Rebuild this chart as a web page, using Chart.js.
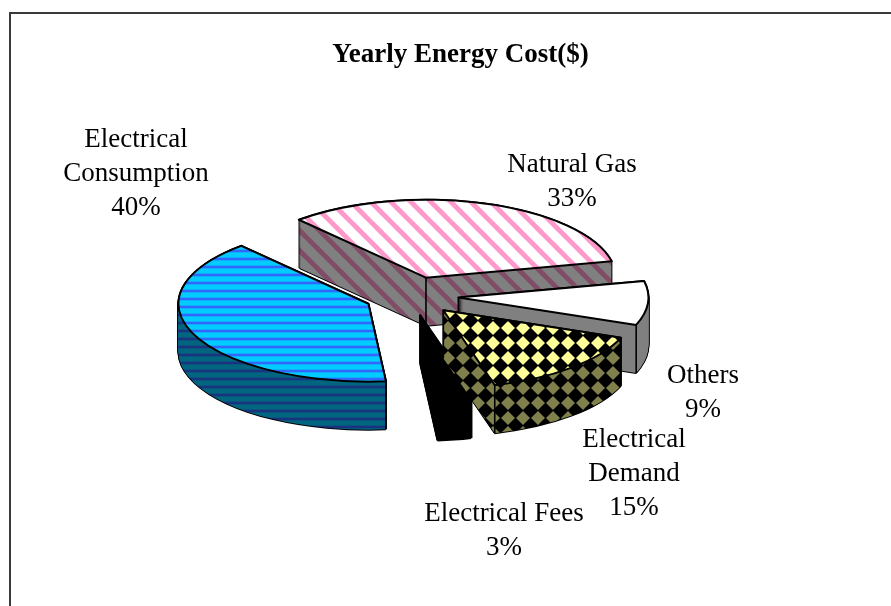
<!DOCTYPE html>
<html><head><meta charset="utf-8">
<style>html,body{margin:0;padding:0;background:#fff}#wrap{position:relative;width:891px;height:606px}canvas{display:block}</style>
<script src="https://cdn.jsdelivr.net/npm/chart.js@4"></script>
</head><body><div id="wrap"><canvas id="c" width="891" height="606"></canvas></div>
<script>
const chartTitle = 'Yearly Energy Cost($)';
const categories = ['Natural Gas', 'Others', 'Electrical Demand', 'Electrical Fees', 'Electrical Consumption'];
const shares = [33.3, 9.1, 14.9, 2.9, 39.8];
const labelLines = [['Natural Gas'], ['Others'], ['Electrical', 'Demand'], ['Electrical Fees'], ['Electrical', 'Consumption']];

// layout of the 3-D rendering
const FONT = '"Liberation Serif", "Times New Roman", serif';
const center = {x: 411.5, y: 296};
const squash = 0.41, depth = 48, explode = 47;
const drawOrder = [0, 1, 4, 3, 2];
const labelAnchors = [[572, 165], [703, 376], [634, 440], [504, 514], [136, 140]];
const labelLead = 34;

function tile(w, h, paint) {
  const t = document.createElement('canvas'); t.width = w; t.height = h;
  paint(t.getContext('2d'), w, h);
  return document.createElement('canvas').getContext('2d').createPattern(t, 'repeat');
}
function hLines(bg, fg) {
  return tile(8, 8, (g, w) => {
    g.fillStyle = bg; g.fillRect(0, 0, w, 8);
    g.fillStyle = fg; g.fillRect(0, 2, w, 2);
    g.globalAlpha = 0.3; g.fillRect(0, 1, w, 1); g.fillRect(0, 4, w, 1);
  });
}
function diagLines(bg, fg) {
  return tile(20, 20, (g, w, h) => {
    g.fillStyle = bg; g.fillRect(0, 0, w, h); g.strokeStyle = fg; g.lineWidth = 4.8;
    for (let o = -2 * w + 9; o <= 2 * w; o += w) { g.beginPath(); g.moveTo(o - 2, -2); g.lineTo(o + h + 2, h + 2); g.stroke(); }
  });
}
function diamonds(bg, fg) {
  return tile(15, 15, (g, w, h) => {
    g.fillStyle = bg; g.fillRect(0, 0, w, h); g.fillStyle = fg;
    for (const cx of [-2, 13]) for (const cy of [-2, 13]) {
      g.beginPath(); g.moveTo(cx - 7, cy); g.lineTo(cx, cy - 7); g.lineTo(cx + 7, cy); g.lineTo(cx, cy + 7); g.closePath(); g.fill();
    }
  });
}
const solid = c => tile(2, 2, (g) => { g.fillStyle = c; g.fillRect(0, 0, 2, 2); });

const topFills = [diagLines('#ffffff', '#ff99cc'), solid('#ffffff'), diamonds('#000000', '#ffff99'), solid('#000000'), hLines('#00ccff', '#3366ff')];
const wallFills = [diagLines('#808080', '#804c66'), solid('#808080'), diamonds('#000000', '#80804c'), solid('#000000'), hLines('#006680', '#193380')];

function sliceMatrix(arc, dy) {
  const mid = (arc.startAngle + arc.endAngle) / 2;
  const ex = Math.cos(mid) * explode, ey = Math.sin(mid) * explode * squash;
  return new DOMMatrix().translate(center.x + ex, center.y + ey + dy).scale(1, squash).translate(-arc.x, -arc.y);
}
function apply(g, m) { g.setTransform(m.a, m.b, m.c, m.d, m.e, m.f); }

const pie3d = {
  id: 'pie3d',
  beforeDraw(chart) {
    const ctx = chart.ctx;
    ctx.save();
    ctx.fillStyle = '#ffffff'; ctx.fillRect(0, 0, chart.width, chart.height);
    ctx.strokeStyle = '#3a3a3a'; ctx.lineWidth = 2;
    ctx.beginPath(); ctx.moveTo(10, chart.height); ctx.lineTo(10, 13); ctx.lineTo(chart.width, 13); ctx.stroke();
    ctx.restore();
  },
  beforeDatasetsDraw(chart) {
    const ctx = chart.ctx, arcs = chart.getDatasetMeta(0).data, W = chart.width, H = chart.height;
    for (const i of drawOrder) {
      const arc = arcs[i];
      // silhouette of the extruded wedge
      const mask = document.createElement('canvas'); mask.width = W; mask.height = H;
      const mg = mask.getContext('2d');
      for (let d = depth; d >= 0; d--) { apply(mg, sliceMatrix(arc, d)); arc.draw(mg); }
      mg.setTransform(1, 0, 0, 1, 0, 0);
      const black = document.createElement('canvas'); black.width = W; black.height = H;
      const bg = black.getContext('2d'); bg.drawImage(mask, 0, 0);
      bg.globalCompositeOperation = 'source-in'; bg.fillStyle = '#000'; bg.fillRect(0, 0, W, H);
      mg.globalCompositeOperation = 'source-in'; mg.fillStyle = wallFills[i]; mg.fillRect(0, 0, W, H);
      ctx.save();
      ctx.setTransform(1, 0, 0, 1, 0, 0);
      for (const [ox, oy] of [[-1, 0], [1, 0], [0, -1], [0, 1]]) ctx.drawImage(black, ox, oy);
      ctx.drawImage(mask, 0, 0);
      // vertical wall edges: the apex, and rim corners on the near half only
      const m = sliceMatrix(arc, 0);
      const pts = [[arc.x, arc.y]];
      for (const a of [arc.startAngle, arc.endAngle]) {
        if (Math.sin(a) > 0) pts.push([arc.x + Math.cos(a) * arc.outerRadius, arc.y + Math.sin(a) * arc.outerRadius]);
      }
      ctx.strokeStyle = '#000'; ctx.lineWidth = 1.6;
      for (const [px, py] of pts) {
        const p = m.transformPoint(new DOMPoint(px, py));
        ctx.beginPath(); ctx.moveTo(p.x, p.y); ctx.lineTo(p.x, p.y + depth); ctx.stroke();
      }
      // top face, with the pattern pinned to the screen
      apply(ctx, m);
      topFills[i].setTransform(m.inverse());
      arc.draw(ctx);
      ctx.beginPath();
      ctx.moveTo(arc.x, arc.y);
      ctx.arc(arc.x, arc.y, arc.outerRadius, arc.startAngle, arc.endAngle);
      ctx.closePath();
      ctx.setTransform(1, 0, 0, 1, 0, 0);
      ctx.lineJoin = 'round'; ctx.lineWidth = 2; ctx.strokeStyle = '#000'; ctx.stroke();
      ctx.restore();
    }
    return false;
  },
  afterDraw(chart) {
    const ctx = chart.ctx;
    ctx.save();
    ctx.font = '27px ' + FONT; ctx.fillStyle = '#000'; ctx.textAlign = 'center'; ctx.textBaseline = 'middle';
    labelLines.forEach((lines, i) => {
      const [x, y] = labelAnchors[i];
      [...lines, Math.round(shares[i]) + '%'].forEach((t, k) => ctx.fillText(t, x, y + k * labelLead));
    });
    ctx.restore();
  }
};

new Chart(document.getElementById('c'), {
  type: 'pie',
  plugins: [pie3d],
  data: {labels: categories, datasets: [{data: shares, backgroundColor: topFills, borderWidth: 0}]},
  options: {
    responsive: false, animation: false, events: [],
    rotation: -42, radius: 190,
    layout: {padding: {left: 30, top: 39}},
    plugins: {
      legend: {display: false}, tooltip: {enabled: false},
      title: {display: true, text: chartTitle, color: '#000', padding: 0, font: {family: FONT, size: 27, weight: 'bold'}}
    }
  }
});
</script></body></html>
